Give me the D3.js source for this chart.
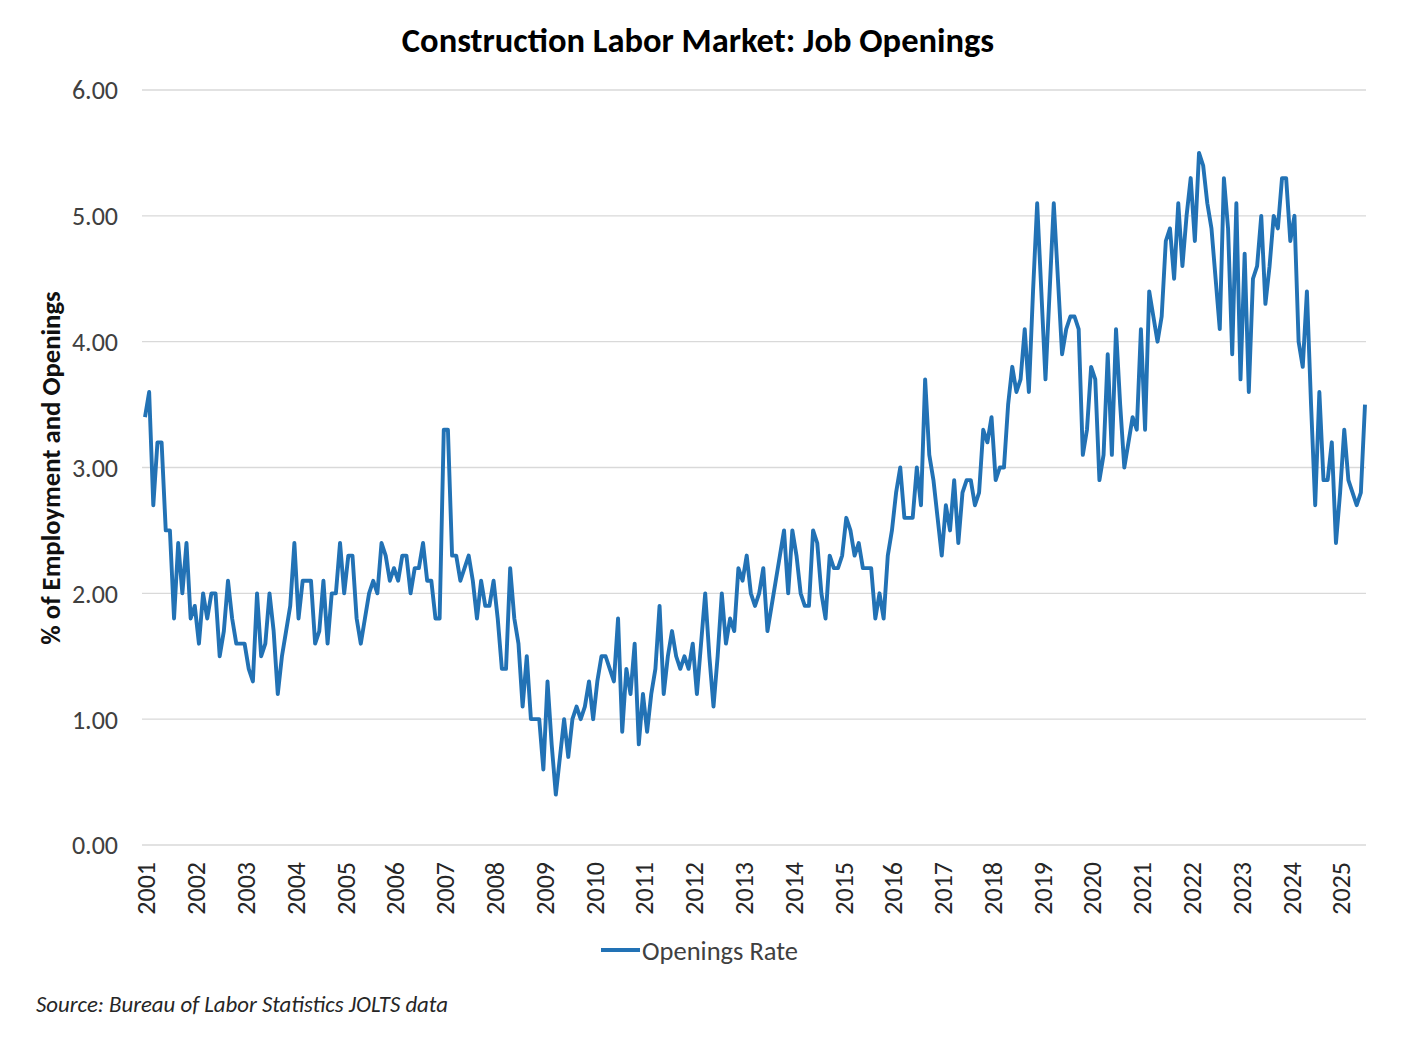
<!DOCTYPE html>
<html>
<head>
<meta charset="utf-8">
<script src="https://cdn.jsdelivr.net/npm/d3@7"></script>
<style>
  body { margin: 0; background: #fff; }
  svg text { font-family: Carlito, Calibri, Lato, sans-serif; }
</style>
</head>
<body>
<svg id="chart" width="1412" height="1052"></svg>
<script>
// monthly openings rate, Jan 2001 .. Jul 2025
const openingsRate = [
  3.4, 3.6, 2.7, 3.2, 3.2, 2.5, 2.5, 1.8, 2.4, 2.0, 2.4, 1.8, // 2001
  1.9, 1.6, 2.0, 1.8, 2.0, 2.0, 1.5, 1.7, 2.1, 1.8, 1.6, 1.6, // 2002
  1.6, 1.4, 1.3, 2.0, 1.5, 1.6, 2.0, 1.7, 1.2, 1.5, 1.7, 1.9, // 2003
  2.4, 1.8, 2.1, 2.1, 2.1, 1.6, 1.7, 2.1, 1.6, 2.0, 2.0, 2.4, // 2004
  2.0, 2.3, 2.3, 1.8, 1.6, 1.8, 2.0, 2.1, 2.0, 2.4, 2.3, 2.1, // 2005
  2.2, 2.1, 2.3, 2.3, 2.0, 2.2, 2.2, 2.4, 2.1, 2.1, 1.8, 1.8, // 2006
  3.3, 3.3, 2.3, 2.3, 2.1, 2.2, 2.3, 2.1, 1.8, 2.1, 1.9, 1.9, // 2007
  2.1, 1.8, 1.4, 1.4, 2.2, 1.8, 1.6, 1.1, 1.5, 1.0, 1.0, 1.0, // 2008
  0.6, 1.3, 0.8, 0.4, 0.7, 1.0, 0.7, 1.0, 1.1, 1.0, 1.1, 1.3, // 2009
  1.0, 1.3, 1.5, 1.5, 1.4, 1.3, 1.8, 0.9, 1.4, 1.2, 1.6, 0.8, // 2010
  1.2, 0.9, 1.2, 1.4, 1.9, 1.2, 1.5, 1.7, 1.5, 1.4, 1.5, 1.4, // 2011
  1.6, 1.2, 1.6, 2.0, 1.5, 1.1, 1.5, 2.0, 1.6, 1.8, 1.7, 2.2, // 2012
  2.1, 2.3, 2.0, 1.9, 2.0, 2.2, 1.7, 1.9, 2.1, 2.3, 2.5, 2.0, // 2013
  2.5, 2.3, 2.0, 1.9, 1.9, 2.5, 2.4, 2.0, 1.8, 2.3, 2.2, 2.2, // 2014
  2.3, 2.6, 2.5, 2.3, 2.4, 2.2, 2.2, 2.2, 1.8, 2.0, 1.8, 2.3, // 2015
  2.5, 2.8, 3.0, 2.6, 2.6, 2.6, 3.0, 2.7, 3.7, 3.1, 2.9, 2.6, // 2016
  2.3, 2.7, 2.5, 2.9, 2.4, 2.8, 2.9, 2.9, 2.7, 2.8, 3.3, 3.2, // 2017
  3.4, 2.9, 3.0, 3.0, 3.5, 3.8, 3.6, 3.7, 4.1, 3.6, 4.4, 5.1, // 2018
  4.4, 3.7, 4.4, 5.1, 4.5, 3.9, 4.1, 4.2, 4.2, 4.1, 3.1, 3.3, // 2019
  3.8, 3.7, 2.9, 3.1, 3.9, 3.1, 4.1, 3.5, 3.0, 3.2, 3.4, 3.3, // 2020
  4.1, 3.3, 4.4, 4.2, 4.0, 4.2, 4.8, 4.9, 4.5, 5.1, 4.6, 5.0, // 2021
  5.3, 4.8, 5.5, 5.4, 5.1, 4.9, 4.5, 4.1, 5.3, 4.9, 3.9, 5.1, // 2022
  3.7, 4.7, 3.6, 4.5, 4.6, 5.0, 4.3, 4.6, 5.0, 4.9, 5.3, 5.3, // 2023
  4.8, 5.0, 4.0, 3.8, 4.4, 3.5, 2.7, 3.6, 2.9, 2.9, 3.2, 2.4, // 2024
  2.8, 3.3, 2.9, 2.8, 2.7, 2.8, 3.5                          // 2025
];

const yearLabels = ["2001","2002","2003","2004","2005","2006","2007","2008","2009",
  "2010","2011","2012","2013","2014","2015","2016","2017","2018","2019","2020",
  "2021","2022","2023","2024","2025"];
const yTicks = [0, 1, 2, 3, 4, 5, 6];

const chartTitle = "Construction Labor Market: Job Openings";
const yTitle = "% of Employment and Openings";
const seriesName = "Openings Rate";
const sourceNote = "Source: Bureau of Labor Statistics JOLTS data";

const plot = {left: 142, right: 1366, top: 90, bottom: 845};
const lineColor = "#2272b5";
const gridColor = "#d9d9d9";

const svg = d3.select("#chart");

const x = d3.scaleLinear()
  .domain([0, openingsRate.length - 1])
  .range([145, 1365]);

const y = d3.scaleLinear()
  .domain([0, 6])
  .range([plot.bottom, plot.top]);

// gridlines
svg.append("g")
  .selectAll("line")
  .data(yTicks)
  .join("line")
    .attr("x1", plot.left)
    .attr("x2", plot.right)
    .attr("y1", d => y(d))
    .attr("y2", d => y(d))
    .attr("stroke", gridColor)
    .attr("stroke-width", 1.3)

// y tick labels
svg.append("g")
  .selectAll("text")
  .data(yTicks)
  .join("text")
    .attr("x", 118)
    .attr("y", d => y(d))
    .attr("dy", "0.36em")
    .attr("text-anchor", "end")
    .attr("font-size", 26)
    .attr("fill", "#404040")
    .text(d => d3.format(".2f")(d))

// x year labels, rotated
svg.append("g")
  .selectAll("text")
  .data(yearLabels)
  .join("text")
    .attr("transform", (d, i) => `translate(${x(i * 12) + 1},862) rotate(-90)`)
    .attr("dy", "0.36em")
    .attr("text-anchor", "end")
    .attr("font-size", 26)
    .attr("fill", "#262626")
    .text(d => d)

// the series
const line = d3.line()
  .x((d, i) => x(i))
  .y(d => y(d));

svg.append("path")
  .datum(openingsRate)
  .attr("d", line)
  .attr("fill", "none")
  .attr("stroke", lineColor)
  .attr("stroke-width", 3.9)
  .attr("stroke-linejoin", "round")

// titles
svg.append("text")
  .attr("x", 698)
  .attr("y", 52)
  .attr("text-anchor", "middle")
  .attr("font-size", 34.5)
  .attr("font-weight", "bold")
  .attr("fill", "#000")
  .text(chartTitle)

svg.append("text")
  .attr("transform", "translate(50,468) rotate(-90)")
  .attr("dy", "0.36em")
  .attr("text-anchor", "middle")
  .attr("font-size", 26.7)
  .attr("font-weight", "bold")
  .attr("fill", "#111")
  .text(yTitle)

// legend
const legend = svg.append("g").attr("transform", "translate(601,950)");
legend.append("line")
  .attr("x1", 0).attr("x2", 39)
  .attr("stroke", lineColor)
  .attr("stroke-width", 3.9)
legend.append("text")
  .attr("x", 41)
  .attr("dy", "0.36em")
  .attr("font-size", 26.5)
  .attr("fill", "#404040")
  .text(seriesName)

svg.append("text")
  .attr("x", 36)
  .attr("y", 1012)
  .attr("font-size", 22.8)
  .attr("font-style", "italic")
  .attr("fill", "#262626")
  .text(sourceNote)
</script>
</body>
</html>
